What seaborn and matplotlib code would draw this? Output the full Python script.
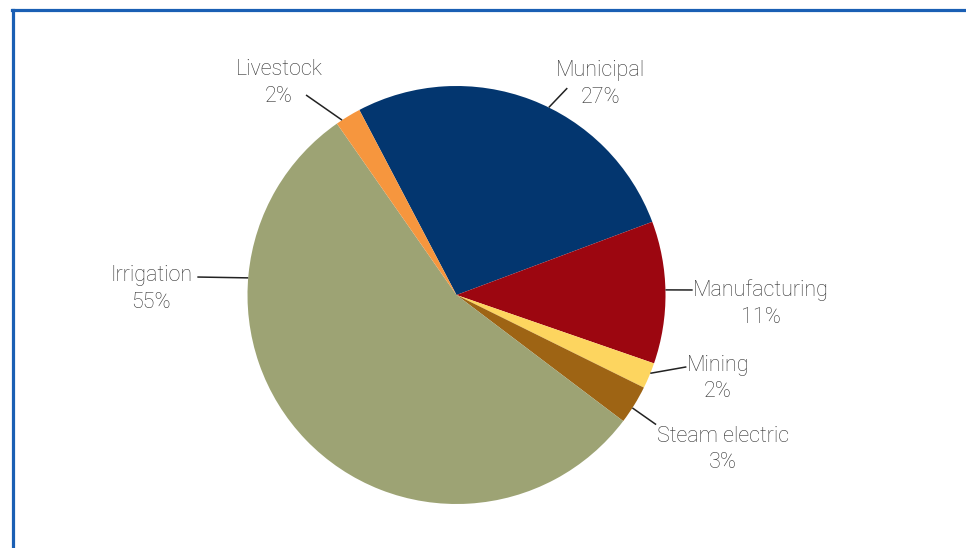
import numpy as np
import matplotlib.pyplot as plt
import seaborn as sns
from matplotlib.lines import Line2D

## Data ##
sectors = ["Municipal", "Manufacturing", "Mining", "Steam electric", "Irrigation", "Livestock"]
shares = [27, 11, 2, 3, 55, 2]
colors = ["#03366f", "#9c0610", "#fdd55f", "#9e6414", "#9da374", "#f6963e"]

# label layout: edge angle (deg), end of leader line, text centre (axes data units, r=1)
label_layout = {
    "Municipal":      (63.8,  (0.53, 0.99),   (0.69, 1.01)),
    "Manufacturing":  (1.4,   (1.13, 0.024),  (1.457, -0.04)),
    "Mining":         (-22.0, (1.10, -0.344), (1.25, -0.40)),
    "Steam electric": (-32.7, (0.955, -0.62), (1.275, -0.74)),
    "Irrigation":     (175.3, (-1.24, 0.086), (-1.46, 0.03)),
    "Livestock":      (123.2, (-0.72, 0.957), (-0.85, 1.015)),
}

sns.set_theme(style="white")
plt.rcParams['font.family'] = ['Roboto', 'DejaVu Sans']

W, H, dpi = 966, 548, 100
fig = plt.figure(figsize=(W / dpi, H / dpi), dpi=dpi)
ax = fig.add_axes([0, 0, 1, 1])

# pixel geometry of the pie
cx, cy, rad = 456.5, 295, 209.0
ax.pie(shares, colors=sns.color_palette(colors), startangle=117.7, counterclock=False,
       radius=1, center=(0, 0), wedgeprops=dict(linewidth=0))
ax.set_xlim(-cx / rad, (W - cx) / rad)
ax.set_ylim(-(H - cy) / rad, cy / rad)
ax.set_aspect('equal')
ax.axis('off')

text_color = "#333333"
for name, pct in zip(sectors, shares):
    ang, tail, txt = label_layout[name]
    a = np.deg2rad(ang)
    ax.plot([np.cos(a), tail[0]], [np.sin(a), tail[1]], color="#222222", lw=1.1,
            solid_capstyle='butt')
    ax.text(txt[0], txt[1], "{}\n{}%".format(name, pct), ha='center', va='center',
            fontsize=15.5, color=text_color, linespacing=1.35, fontweight='light')

# blue frame (top and left edges)
frame_c = "#1a5fb4"
fig.add_artist(Line2D([11.5 / W, 1], [1 - 10 / H, 1 - 10 / H], color=frame_c, lw=2.3,
                      transform=fig.transFigure, solid_capstyle='projecting'))
fig.add_artist(Line2D([12.5 / W, 12.5 / W], [0, 1 - 10 / H], color=frame_c, lw=2.3,
                      transform=fig.transFigure, solid_capstyle='projecting'))

fig.savefig("out.png", dpi=dpi)
